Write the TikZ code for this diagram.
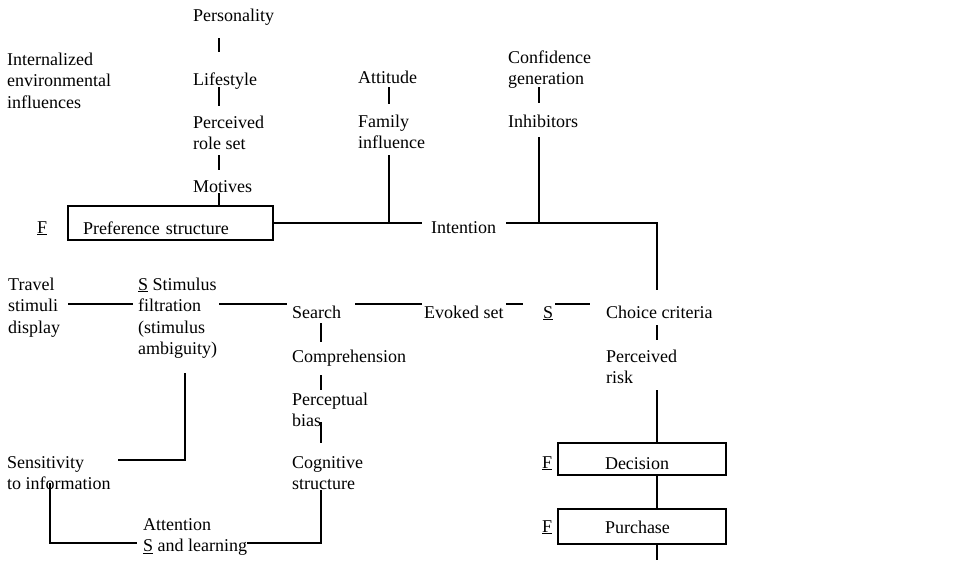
\documentclass[tikz,border=0pt]{standalone}
\usepackage{fontspec}
\setmainfont{Liberation Serif}
\begin{document}
\begin{tikzpicture}[x=1pt,y=-1pt,
  every node/.style={font=\fontsize{18}{21.5}\selectfont},
  lbl/.style={inner sep=0pt, anchor=base west, align=left},
  stage/.style={draw, line width=2pt, inner sep=0pt, anchor=north west, align=left},
  link/.style={line width=1.8pt},
  heavy/.style={line width=2.6pt},
]
\useasboundingbox (0,0) rectangle (973,560);

% column and row guides for the connectors
\coordinate (colP) at (219,0);
\coordinate (colA) at (389,0);
\coordinate (colC) at (539,0);
\coordinate (spine) at (657,0);
\coordinate (colS) at (185,0);
\coordinate (colQ) at (321,0);
\coordinate (colT) at (50,0);
\coordinate (rowM) at (0,304);
\coordinate (rowS) at (0,460);
\coordinate (rowB) at (0,543);
\coordinate (foot) at (657,560);

% upper block (multi-line labels are placed by the baseline of their last line)
\node[lbl] (intl) at (7,108) {Internalized\\environmental\\influences};
\node[lbl] (pers) at (193,21) {Personality};
\node[lbl] (life) at (193,85) {Lifestyle};
\node[lbl] (role) at (193,149.5) {Perceived\\role set};
\node[lbl] (motv) at (193,192) {Motives};
\node[lbl] (att) at (358,83) {Attitude};
\node[lbl] (fam) at (358,148.5) {Family\\influence};
\node[lbl] (conf) at (508,84.5) {Confidence\\generation};
\node[lbl] (inh) at (508,127) {Inhibitors};
\node[lbl] (fp) at (37,233) {\underline{F}};
\node[stage, inner xsep=15pt, text width=175pt, text height=28pt, text depth=6pt] (pref) at (67,205) {Preference structure};
\node[lbl] (int) at (431,233) {Intention};

% middle block
\node[lbl] (trav) at (8,333) {Travel\\stimuli\\display};
\node[lbl] (stim) at (138,354.5) {\underline{S} Stimulus\\filtration\\(stimulus\\ambiguity)};
\node[lbl] (srch) at (292,318) {Search};
\node[lbl] (evk) at (424,318) {Evoked set};
\node[lbl] (sc) at (543,318) {\underline{S}};
\node[lbl] (choice) at (606,318) {Choice criteria};
\node[lbl] (comp) at (292,362) {Comprehension};
\node[lbl] (perc) at (292,426.5) {Perceptual\\bias};
\node[lbl] (cog) at (292,489.5) {Cognitive\\structure};
\node[lbl] (risk) at (606,383.5) {Perceived\\risk};

% lower block
\node[lbl] (sens) at (7,489.5) {Sensitivity\\to information};
\node[lbl] (attn) at (143,551.5) {Attention\\\underline{S} and learning};
\node[lbl] (fd) at (542,468) {\underline{F}};
\node[stage, inner xsep=47pt, text width=74pt, text height=26pt, text depth=6pt] (dec) at (557,442) {Decision};
\node[lbl] (fu) at (542,532) {\underline{F}};
\node[stage, inner xsep=47pt, text width=74pt, text height=24pt, text depth=11pt] (pur) at (557,508) {Purchase};

% connectors, upper block
\draw[link, shorten <=17pt, shorten >=33pt] (pers.base -| colP) -- (life.base -| colP);
\draw[link, shorten <=2pt, shorten >=43.5pt] (life.base -| colP) -- (role.base -| colP);
\draw[link, shorten <=5.5pt, shorten >=22pt] (role.base -| colP) -- (motv.base -| colP);
\draw[link, shorten <=1pt] (motv.base -| colP) -- (pref.north -| colP);
\draw[link, shorten <=4pt, shorten >=44.5pt] (att.base -| colA) -- (fam.base -| colA);
\draw[link, shorten <=6.5pt] (fam.base -| colA) -- (colA |- pref.east);
\draw[link, shorten <=2.5pt, shorten >=24pt] (conf.base -| colC) -- (inh.base -| colC);
\draw[link, shorten <=10pt] (inh.base -| colC) -- (colC |- pref.east);
\draw[link, shorten >=9pt] (pref.east) -- (pref.east -| int.west);
\draw[heavy, shorten <=10pt, shorten >=28pt] (int.east |- pref.east) -- (spine |- pref.east) -- (spine |- choice.base);

% connectors, middle row
\draw[link, shorten <=8pt, shorten >=5pt] (trav.east |- rowM) -- (stim.west |- rowM);
\draw[link, shorten <=2pt, shorten >=5pt] (stim.east |- rowM) -- (srch.west |- rowM);
\draw[link, shorten <=14pt, shorten >=2pt] (srch.east |- rowM) -- (evk.west |- rowM);
\draw[link, shorten <=2pt, shorten >=20pt] (evk.east |- rowM) -- (sc.west |- rowM);
\draw[link, shorten <=2pt, shorten >=16pt] (sc.east |- rowM) -- (choice.west |- rowM);

% decision spine
\draw[link, shorten <=7pt, shorten >=43.5pt] (choice.base -| spine) -- (risk.base -| spine);
\draw[link, shorten <=6.5pt] (risk.base -| spine) -- (dec.north -| spine);
\draw[link] (dec.south -| spine) -- (pur.north -| spine);
\draw[link] (pur.south -| spine) -- (foot);

% search column
\draw[link, shorten <=5pt, shorten >=20pt] (srch.base -| colQ) -- (comp.base -| colQ);
\draw[link, shorten <=13pt, shorten >=36.5pt] (comp.base -| colQ) -- (perc.base -| colQ);
\draw[link, shorten <=-4.5pt, shorten >=46.5pt] (perc.base -| colQ) -- (cog.base -| colQ);

% learning loop
\draw[link, line width=2.2pt, shorten <=18.5pt, shorten >=7.5pt] (stim.base -| colS) |- (sens.east |- rowS);
\draw[heavy, shorten <=-6.5pt, shorten >=6pt] (sens.base -| colT) |- (attn.west |- rowB);
\draw[heavy] (attn.east |- rowB) -| (cog.south -| colQ);
\end{tikzpicture}
\end{document}
